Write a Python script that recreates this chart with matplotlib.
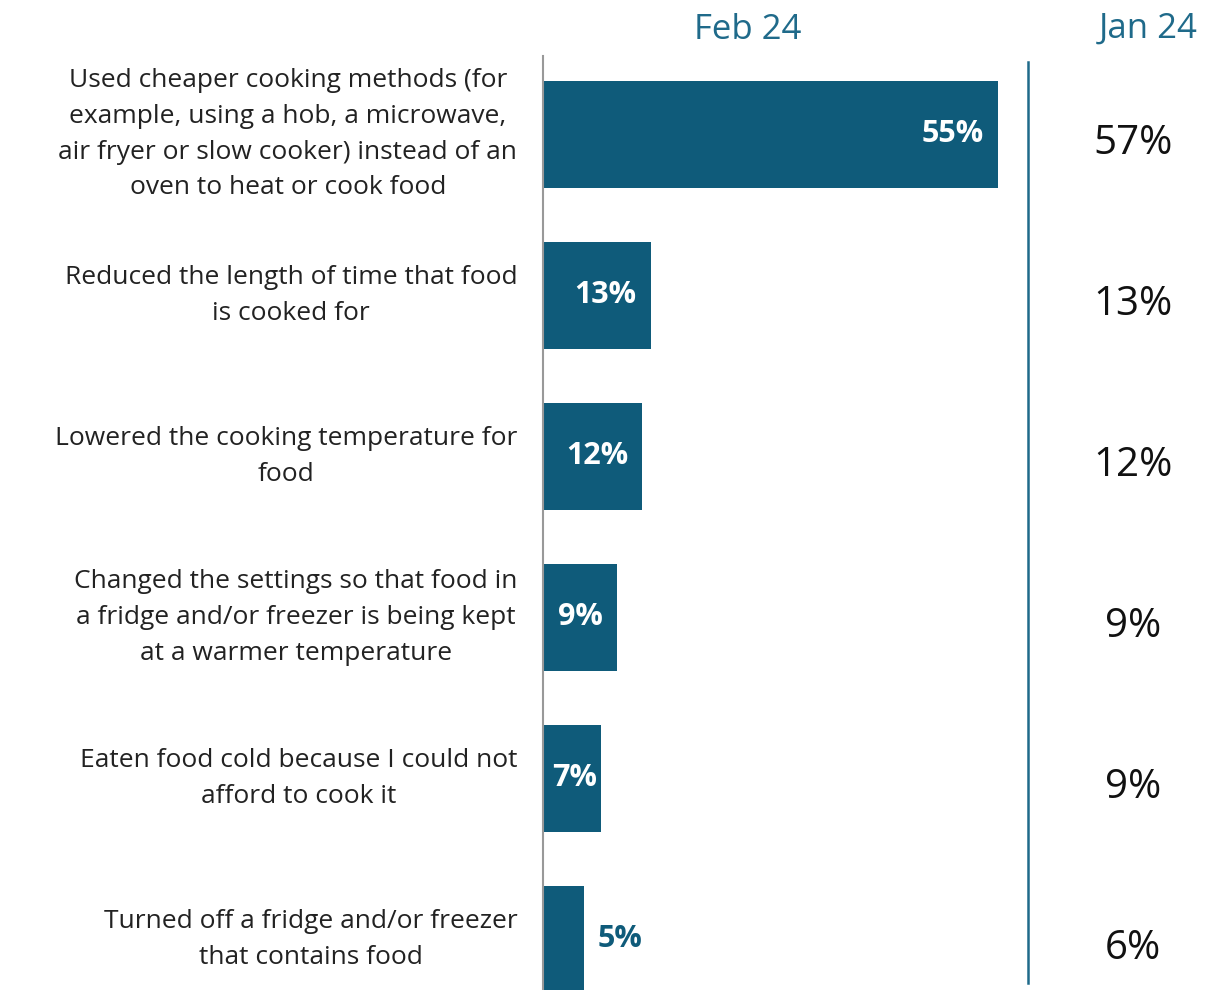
import matplotlib.pyplot as plt

plt.rcParams['font.family'] = ['Open Sans', 'DejaVu Sans']

categories = [
    "Used cheaper cooking methods (for\nexample, using a hob, a microwave,\nair fryer or slow cooker) instead of an\noven to heat or cook food",
    "Reduced the length of time that food\nis cooked for",
    "Lowered the cooking temperature for\nfood",
    "Changed the settings so that food in\na fridge and/or freezer is being kept\nat a warmer temperature",
    "Eaten food cold because I could not\nafford to cook it",
    "Turned off a fridge and/or freezer\nthat contains food",
]
feb_24 = [55, 13, 12, 9, 7, 5]
jan_24 = [57, 13, 12, 9, 9, 6]
col_titles = ["Feb 24", "Jan 24"]

bar_color = "#0f5b7a"
head_color = "#1f6a8a"

fig = plt.figure(figsize=(12.13, 9.9), dpi=100)
# axes spans from the category axis line to the right edge of the figure
ax = fig.add_axes([543 / 1213, 0, 670 / 1213, 1])
ax.set_xlim(0, 670 / 8.27)
ax.set_ylim(5.314, -0.835)
ax.axis('off')

ypos = range(len(categories))
ax.barh(ypos, feb_24, height=0.665, color=bar_color)

for y, cat, v, j in zip(ypos, categories, feb_24, jan_24):
    ax.text(-3.1, y, cat, ha='right', va='center', multialignment='center',
            fontsize=19, color='#222222', linespacing=1.56, clip_on=False)
    if v >= 7:
        ax.text(max(v - 1.7, 6.6), y, f"{v}%", ha='right', va='center',
                fontsize=22, fontweight='bold', color='white')
    else:
        ax.text(v + 1.6, y, f"{v}%", ha='left', va='center',
                fontsize=22, fontweight='bold', color=bar_color)
    ax.text(71.3, y + 0.06, f"{j}%", ha='center', va='center',
            fontsize=29, color='#111111')

# axis line and separator
ax.plot([0, 0], [-0.49, 5.314], color='#999999', lw=1.5, clip_on=False)
ax.plot([58.6, 58.6], [-0.45, 5.27], color=head_color, lw=1.8)

ax.text(24.8, -0.65, col_titles[0], ha='center', va='center',
        fontsize=25, color=head_color)
ax.text(73.2, -0.66, col_titles[1], ha='center', va='center',
        fontsize=25, color=head_color)

fig.savefig('out.png', dpi=100, facecolor='white')
